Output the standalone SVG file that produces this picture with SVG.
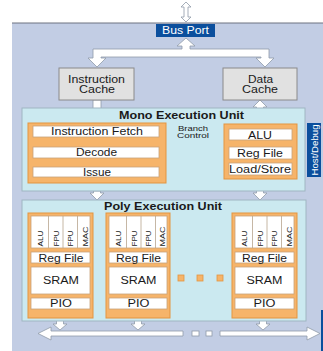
<svg xmlns="http://www.w3.org/2000/svg" width="323" height="351" viewBox="0 0 323 351">
<style>
text{font-family:"Liberation Sans",Arial,sans-serif;fill:#1a1a1a;text-anchor:middle}
.b{font-weight:bold}
.w{fill:#fff}
.arr{fill:#fff;stroke:#8f9aa8;stroke-width:0.8}
.unit{fill:#cbe9f0;stroke:#9fb6c2;stroke-width:1}
.org{fill:#f6b46a;stroke:#e39540;stroke-width:1}
.row{fill:#fff;stroke:#c9a27a;stroke-width:0.8}
.cache{fill:#e1e1e1;stroke:#8a8a8a;stroke-width:1}
.blue{fill:#0b4f9d}
.cell{font-size:8px;text-anchor:start}
.sq{fill:#f6b46a;stroke:#e39540;stroke-width:0.8}
.dv{stroke:#b8a58e;stroke-width:0.8}
</style>
<rect x="0" y="0" width="323" height="351" fill="#fff"/>
<rect x="12" y="23" width="311" height="328" fill="#c2cde4"/>
<line x1="12" y1="23" x2="323" y2="23" stroke="#6d7380" stroke-width="1"/>
<rect x="321" y="310" width="2" height="41" class="blue"/>

<g id="connectors">
<polygon class="arr" points="186,2 191,7 188,7 188,17 191,17 186,22 181,17 184,17 184,7 181,7"/>
<polygon class="arr" points="186,38 195,46 190,46 190,49 269,49 269,58 274,58 265,67 256,58 261,58 261,57 101,57 101,58 106,58 97,67 88,58 93,58 93,49 182,49 182,46 177,46"/>
<polygon class="arr" points="93,100 101,100 101,112 106,112 97,121 88,112 93,112"/>
<polygon class="arr" points="260,100 267,107 263.5,107 263.5,117 267,117 260,124 253,117 256.5,117 256.5,107 253,107"/>
<polygon class="arr" points="94,137 100,137 100,141 104,141 97,147 90,141 94,141"/>
<polygon class="arr" points="94,158 100,158 100,161 104,161 97,167 90,161 94,161"/>
<polygon class="arr" points="159,169 213,169 213,166 224,172 213,178 213,175 159,175"/>
<line x1="224" y1="132" x2="167" y2="132" stroke="#6f7c88" stroke-width="1"/>
<polygon points="160,132 168,128.5 168,135.5" fill="#111"/>
<polygon class="arr" points="93.5,191 100.5,191 100.5,193 104,193 97,200 90,193 93.5,193"/>
<polygon class="arr" points="260,179 267,186 263.5,186 263.5,193 267,193 260,200 253,193 256.5,193 256.5,186 253,186"/>
<polygon class="arr" points="94,258 98,255 98,257 101,257 101,255 105,258 101,261 101,259 98,259 98,261"/>
<polygon class="arr" points="172,258 176,255 176,257 180,257 180,255 184,258 180,261 180,259 176,259 176,261"/>
<polygon class="arr" points="220,258 224,255 224,257 228,257 228,255 232,258 228,261 228,259 224,259 224,261"/>
<polygon class="arr" points="60,310 67,316 63.5,316 63.5,324 67,324 60,330 53,324 56.5,324 56.5,316 53,316"/>
<polygon class="arr" points="138,310 145,316 141.5,316 141.5,324 145,324 138,330 131,324 134.5,324 134.5,316 131,316"/>
<polygon class="arr" points="263,310 270,316 266.5,316 266.5,324 270,324 263,330 256,324 259.5,324 259.5,316 256,316"/>
<polygon class="arr" points="38,333.5 51,327 51,331 183,331 183,336 51,336 51,340"/>
<rect class="arr" x="192" y="331" width="7" height="5"/>
<rect class="arr" x="206" y="331" width="6" height="5"/>
<polygon class="arr" points="220,331 307,331 307,327 320,333.5 307,340 307,336 220,336"/>
</g>

<g id="bus-port">
<rect x="156" y="24" width="59" height="13" class="blue"/>
<text x="185.5" y="34" class="w" font-size="10" textLength="47" lengthAdjust="spacingAndGlyphs">Bus Port</text>
</g>

<g id="instruction-cache">
<rect x="59" y="68" width="75" height="32" class="cache"/>
<text x="96.5" y="83" font-size="10" textLength="57" lengthAdjust="spacingAndGlyphs">Instruction</text>
<text x="97" y="93" font-size="10" textLength="36" lengthAdjust="spacingAndGlyphs">Cache</text>
</g>

<g id="data-cache">
<rect x="223" y="68" width="74" height="32" class="cache"/>
<text x="260.5" y="83" font-size="10" textLength="25" lengthAdjust="spacingAndGlyphs">Data</text>
<text x="260" y="93" font-size="10" textLength="36" lengthAdjust="spacingAndGlyphs">Cache</text>
</g>

<g id="mono-execution-unit">
<rect x="22" y="108" width="283" height="83" class="unit"/>
<text x="181.5" y="118.5" class="b" font-size="10" textLength="125" lengthAdjust="spacingAndGlyphs">Mono Execution Unit</text>
</g>

<g id="control-pipeline">
<rect x="28" y="123" width="138" height="60" class="org"/>
<rect x="33" y="126" width="126" height="11" class="row"/>
<rect x="33" y="147" width="126" height="11" class="row"/>
<rect x="33" y="167" width="126" height="10" class="row"/>
<text x="97" y="135" font-size="10" textLength="92" lengthAdjust="spacingAndGlyphs">Instruction Fetch</text>
<text x="96.5" y="156" font-size="10" textLength="41" lengthAdjust="spacingAndGlyphs">Decode</text>
<text x="97" y="176" font-size="10" textLength="28" lengthAdjust="spacingAndGlyphs">Issue</text>
</g>

<g id="branch-control">
<text x="193" y="130.5" font-size="7.5" textLength="30" lengthAdjust="spacingAndGlyphs">Branch</text>
<text x="193" y="138" font-size="7.5" textLength="32" lengthAdjust="spacingAndGlyphs">Control</text>
</g>

<g id="mono-datapath">
<rect x="224" y="124" width="73" height="55" class="org"/>
<rect x="229" y="129" width="63" height="11" class="row"/>
<rect x="229" y="147" width="63" height="12" class="row"/>
<rect x="229" y="163" width="63" height="12" class="row"/>
<text x="260" y="138.5" font-size="10" textLength="24" lengthAdjust="spacingAndGlyphs">ALU</text>
<text x="260" y="157" font-size="10" textLength="46" lengthAdjust="spacingAndGlyphs">Reg File</text>
<text x="260" y="173" font-size="10" textLength="62" lengthAdjust="spacingAndGlyphs">Load/Store</text>
</g>

<g id="host-debug">
<rect x="307" y="123" width="14" height="54" class="blue"/>
<text transform="translate(317.5,150) rotate(-90)" x="0" y="0" class="w" font-size="9" textLength="51" lengthAdjust="spacingAndGlyphs">Host/Debug</text>
</g>

<g id="poly-execution-unit">
<rect x="22" y="200" width="284" height="121" class="unit"/>
<text x="163" y="209.5" class="b" font-size="10" textLength="118" lengthAdjust="spacingAndGlyphs">Poly Execution Unit</text>
</g>

<g id="pe-1">
<rect x="28" y="213" width="65" height="105" class="org"/>
<rect x="31" y="216" width="59" height="32" class="row"/>
<path class="dv" d="M48.5,216V248M63,216V248M77.5,216V248"/>
<text class="cell" transform="translate(43,246.5) rotate(-90)" textLength="16" lengthAdjust="spacingAndGlyphs">ALU</text>
<text class="cell" transform="translate(59,246.5) rotate(-90)" textLength="16" lengthAdjust="spacingAndGlyphs">FPU</text>
<text class="cell" transform="translate(73,246.5) rotate(-90)" textLength="16" lengthAdjust="spacingAndGlyphs">FPU</text>
<text class="cell" transform="translate(87.5,246.5) rotate(-90)" textLength="20" lengthAdjust="spacingAndGlyphs">MAC</text>
<rect x="31" y="252" width="59" height="11" class="row"/>
<rect x="31" y="267" width="59" height="27" class="row"/>
<rect x="31" y="298" width="59" height="11" class="row"/>
<text x="61" y="261.5" font-size="10" textLength="45" lengthAdjust="spacingAndGlyphs">Reg File</text>
<text x="61" y="284" font-size="10" textLength="36" lengthAdjust="spacingAndGlyphs">SRAM</text>
<text x="61" y="307" font-size="10" textLength="22" lengthAdjust="spacingAndGlyphs">PIO</text>
</g>

<g id="pe-2">
<rect x="106" y="213" width="64" height="105" class="org"/>
<rect x="109" y="216" width="58" height="32" class="row"/>
<path class="dv" d="M126.5,216V248M141,216V248M155.5,216V248"/>
<text class="cell" transform="translate(121,246.5) rotate(-90)" textLength="16" lengthAdjust="spacingAndGlyphs">ALU</text>
<text class="cell" transform="translate(137,246.5) rotate(-90)" textLength="16" lengthAdjust="spacingAndGlyphs">FPU</text>
<text class="cell" transform="translate(151,246.5) rotate(-90)" textLength="16" lengthAdjust="spacingAndGlyphs">FPU</text>
<text class="cell" transform="translate(165.3,246.5) rotate(-90)" textLength="20" lengthAdjust="spacingAndGlyphs">MAC</text>
<rect x="109" y="252" width="58" height="11" class="row"/>
<rect x="109" y="267" width="58" height="27" class="row"/>
<rect x="109" y="298" width="58" height="11" class="row"/>
<text x="138.5" y="261.5" font-size="10" textLength="45" lengthAdjust="spacingAndGlyphs">Reg File</text>
<text x="138.5" y="284" font-size="10" textLength="36" lengthAdjust="spacingAndGlyphs">SRAM</text>
<text x="138.5" y="307" font-size="10" textLength="22" lengthAdjust="spacingAndGlyphs">PIO</text>
</g>

<g id="ellipsis">
<rect x="178" y="275" width="6" height="6" class="sq"/>
<rect x="197" y="275" width="6" height="6" class="sq"/>
<rect x="217" y="275" width="6" height="6" class="sq"/>
</g>

<g id="pe-n">
<rect x="232" y="213" width="65" height="105" class="org"/>
<rect x="235" y="216" width="59" height="32" class="row"/>
<path class="dv" d="M252.5,216V248M267,216V248M281.5,216V248"/>
<text class="cell" transform="translate(247,246.5) rotate(-90)" textLength="16" lengthAdjust="spacingAndGlyphs">ALU</text>
<text class="cell" transform="translate(263,246.5) rotate(-90)" textLength="16" lengthAdjust="spacingAndGlyphs">FPU</text>
<text class="cell" transform="translate(277,246.5) rotate(-90)" textLength="16" lengthAdjust="spacingAndGlyphs">FPU</text>
<text class="cell" transform="translate(291.5,246.5) rotate(-90)" textLength="20" lengthAdjust="spacingAndGlyphs">MAC</text>
<rect x="235" y="252" width="59" height="11" class="row"/>
<rect x="235" y="267" width="59" height="27" class="row"/>
<rect x="235" y="298" width="59" height="11" class="row"/>
<text x="264.5" y="261.5" font-size="10" textLength="45" lengthAdjust="spacingAndGlyphs">Reg File</text>
<text x="264.5" y="284" font-size="10" textLength="36" lengthAdjust="spacingAndGlyphs">SRAM</text>
<text x="264.5" y="307" font-size="10" textLength="22" lengthAdjust="spacingAndGlyphs">PIO</text>
</g>
</svg>
